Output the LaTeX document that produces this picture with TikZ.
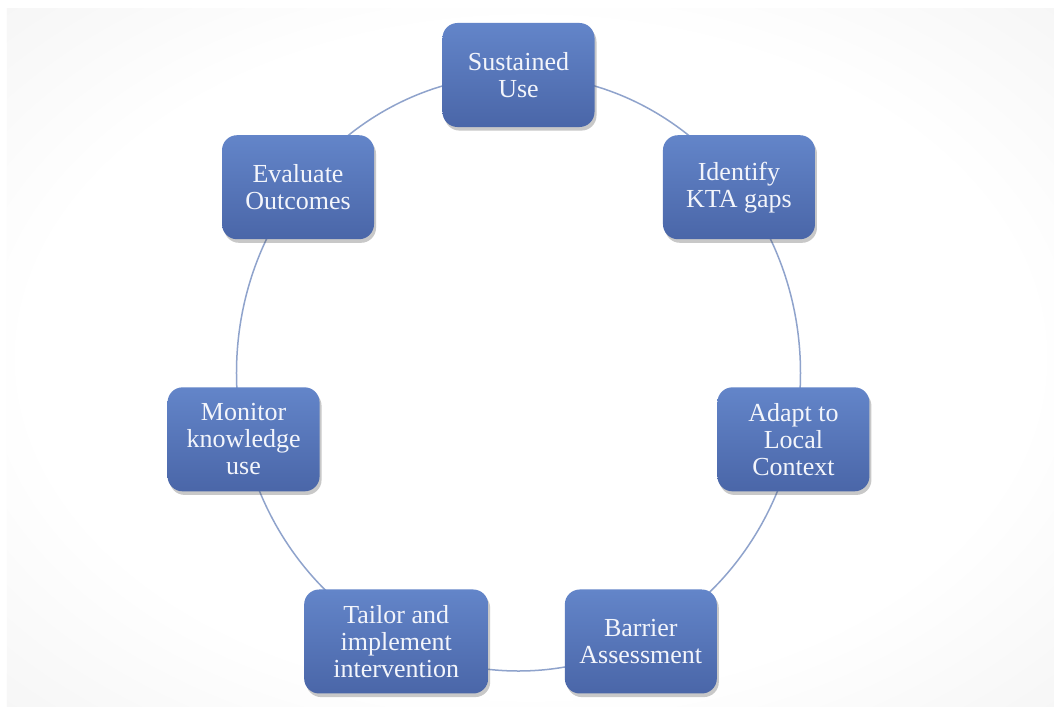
\documentclass[tikz,border=0pt]{standalone}
\usepackage{fontspec}
\setmainfont{Liberation Serif}
\definecolor{stageTop}{HTML}{6385C9}
\definecolor{stageBottom}{HTML}{4A66A8}
\definecolor{stageText}{HTML}{F3F5FB}
\definecolor{ringLine}{HTML}{8FA3CC}
\definecolor{slideEdge}{HTML}{EBEBEB}
\usetikzlibrary{shadows}
\pgfdeclareradialshading{slideglow}{\pgfpoint{0bp}{0bp}}{%
  color(0bp)=(white); color(24bp)=(white); color(50bp)=(slideEdge); color(72bp)=(slideEdge)}

\begin{document}
\begin{tikzpicture}[
    x=0.5pt, y=0.5pt,
    stage/.style={
      rounded corners=7.5pt,
      top color=stageTop,
      bottom color=stageBottom,
      text=stageText,
      minimum width=76pt,
      minimum height=52pt,
      align=center,
      inner sep=4pt,
      font=\fontsize{13}{13.5}\selectfont,
      drop shadow={shadow xshift=1pt, shadow yshift=-1.8pt, opacity=0.3, fill=black!70},
    },
    ring/.style={draw=ringLine, line width=0.75pt},
  ]
    % slide background
    \useasboundingbox (-518.5,373) rectangle (535.5,-340);
    \fill[white] (-518.5,373) rectangle (535.5,-340);
    \shade[shading=slideglow] (-511.5,364) rectangle (535.5,-333);

    % cycle
    \coordinate (hub) at (0,0);
    \draw[ring] (hub) ellipse [x radius=141pt, y radius=149pt];

    \node[stage] (sustained) at (90:141pt and 149pt) {Sustained\\Use};
    \node[stage] (identify) at (38.57:141pt and 149pt) {Identify\\KTA gaps};
    \node[stage] (adapt) at (-12.86:141pt and 149pt) {Adapt to\\Local\\Context};
    \node[stage] (barrier) at (-64.29:141pt and 149pt) {Barrier\\Assessment};
    \node[stage, minimum width=92pt] (tailor) at (-115.71:141pt and 149pt) {Tailor and\\implement\\intervention};
    \node[stage] (monitor) at (-167.14:141pt and 149pt) {Monitor\\knowledge\\use};
    \node[stage] (evaluate) at (141.43:141pt and 149pt) {Evaluate\\Outcomes};
  \end{tikzpicture}
\end{document}
